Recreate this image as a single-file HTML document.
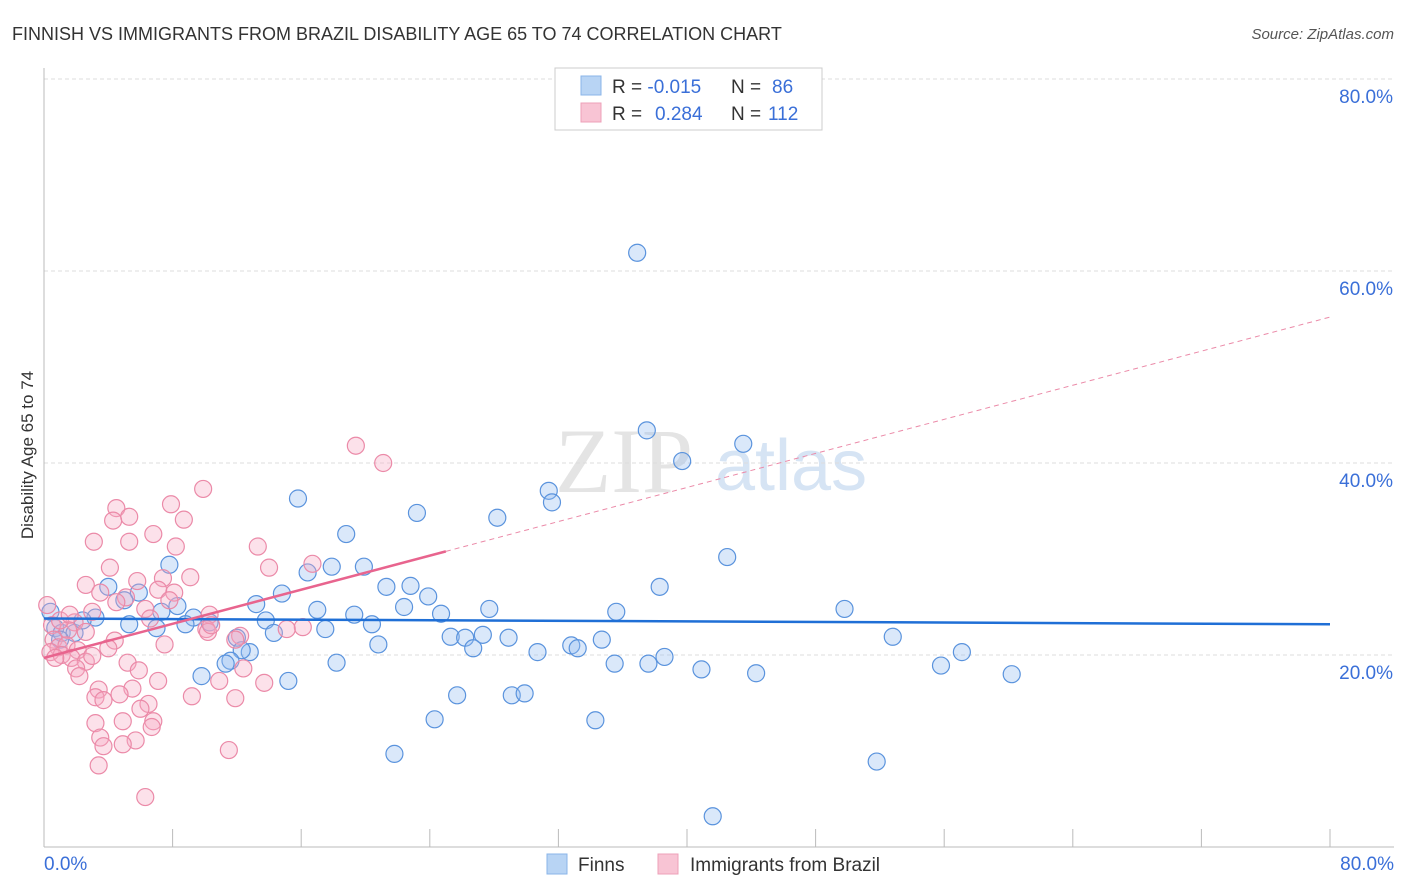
<!DOCTYPE html>
<html><head><meta charset="utf-8"><style>
body{margin:0;background:#fff;font-family:"Liberation Sans",sans-serif;}
#wrap{position:relative;width:1406px;height:892px;overflow:hidden}
</style></head><body>
<div id="wrap">
<svg id="chart" width="1406" height="892">
<text x="12" y="40" font-size="18" fill="#333">FINNISH VS IMMIGRANTS FROM BRAZIL DISABILITY AGE 65 TO 74 CORRELATION CHART</text>
<text x="1394" y="39" font-size="15" fill="#555" font-style="italic" text-anchor="end">Source: ZipAtlas.com</text>
<text x="0" y="0" transform="translate(33,455) rotate(-90)" font-size="17" fill="#333" text-anchor="middle">Disability Age 65 to 74</text>
<g><text x="555" y="492" font-size="92" font-family="Liberation Serif,serif" fill="#e4e4e4">ZIP</text><text x="715" y="490" font-size="72" fill="#d6e4f4">atlas</text></g>
<g id="grid"></g><g id="axes"></g><g id="pts"></g><g id="lines"></g>
<g>
<rect x="555" y="68" width="267" height="62" fill="#fff" stroke="#ccc"/>
<rect x="581" y="76" width="20" height="19" fill="#b8d4f4" stroke="#8ab4e8"/>
<rect x="581" y="103" width="20" height="19" fill="#f8c4d4" stroke="#eea0b8"/>
<text x="612" y="93" font-size="19" fill="#333">R = <tspan fill="#3a6fd8">-0.015</tspan><tspan x="731">N = </tspan><tspan fill="#3a6fd8" x="772">86</tspan></text>
<text x="612" y="120" font-size="19" fill="#333">R = <tspan fill="#3a6fd8" x="655">0.284</tspan><tspan x="731">N = </tspan><tspan fill="#3a6fd8" x="768">112</tspan></text>
</g>
<g>
<rect x="547" y="854" width="20" height="20" fill="#b8d4f4" stroke="#8ab4e8"/>
<text x="578" y="871" font-size="19" fill="#333">Finns</text>
<rect x="658" y="854" width="20" height="20" fill="#f8c4d4" stroke="#eea0b8"/>
<text x="690" y="871" font-size="19" fill="#333">Immigrants from Brazil</text>
</g>
</svg>
</div>
<script>
const blueX=[36.9,37.5,43.5,39.7,31.4,31.6,15.8,23.2,28.2,18.8,42.5,7.8,17.9,19.9,16.4,38.3,21.3,22.8,4.0,5.9,14.8,23.9,5.0,13.2,22.4,8.3,27.7,49.8,35.6,17.0,24.7,19.3,7.3,0.4,3.2,9.3,10.3,13.8,20.4,8.8,5.3,7.0,17.5,14.3,27.3,52.8,25.3,26.2,28.9,34.7,12.0,32.8,20.8,33.2,26.7,12.8,30.7,12.3,57.1,38.6,11.6,11.3,35.5,18.2,37.6,55.8,40.9,44.3,60.2,9.8,15.2,25.7,29.1,29.9,24.3,34.3,21.8,51.8,41.6,0.7,1.1,1.9,2.4,1.0];
const blueY=[61.9,43.4,42.0,40.2,37.1,35.9,36.3,34.8,34.3,32.6,30.2,29.4,29.2,29.2,28.6,27.1,27.1,27.2,27.1,26.5,26.4,26.1,25.7,25.3,25.0,25.1,24.8,24.8,24.5,24.7,24.3,24.2,24.5,24.5,23.9,23.9,23.4,23.6,23.2,23.2,23.2,22.8,22.7,22.3,22.1,21.9,21.9,21.8,21.8,21.6,21.8,21.0,21.1,20.7,20.7,20.3,20.3,20.5,20.3,19.8,19.4,19.1,19.1,19.2,19.1,18.9,18.5,18.1,18.0,17.8,17.3,15.8,15.8,16.0,13.3,13.2,9.7,8.9,3.2,22.8,22.3,22.3,23.6,21.6];
const pinkX=[19.4,21.1,9.9,4.5,7.9,5.3,4.3,8.7,3.1,5.3,6.8,13.3,8.2,16.7,14.0,4.1,9.1,7.4,2.6,5.8,8.1,7.1,3.5,5.1,4.5,7.8,6.3,3.0,0.2,10.3,1.9,16.1,15.1,10.1,0.5,1.5,2.6,12.2,7.5,4.4,4.0,0.6,0.9,1.4,2.1,0.4,1.1,1.7,2.6,0.7,3.0,5.2,12.4,2.0,5.9,2.2,10.9,7.1,13.7,3.4,5.5,4.7,3.2,9.2,11.9,3.7,6.5,6.0,4.9,3.2,6.8,6.7,3.5,5.7,3.7,4.9,11.5,3.4,6.3,1.0,1.6,10.2,10.4,11.9,6.6];
const pinkY=[41.8,40.0,37.3,35.3,35.7,34.4,34.0,34.1,31.8,31.8,32.6,31.3,31.3,29.5,29.1,29.1,28.1,28.0,27.3,27.7,26.5,26.8,26.5,26.0,25.5,25.7,24.8,24.5,25.2,24.2,23.4,22.9,22.7,22.7,23.1,22.6,22.4,22.0,21.1,21.5,20.7,21.6,20.8,21.0,20.5,20.3,20.0,19.7,19.3,19.7,19.9,19.2,18.6,18.6,18.4,17.8,17.3,17.3,17.1,16.4,16.5,15.9,15.6,15.7,15.5,15.3,14.9,14.4,13.1,12.9,13.1,12.5,11.4,11.1,10.5,10.7,10.1,8.5,5.2,23.6,24.2,22.4,23.1,21.6,23.8];
const yTicks=[20,40,60,80];
const xTickVals=[0,8,16,24,32,40,48,56,64,72,80];
const blueTrend=[23.8,23.2];
const pinkTrend=[19.7,55.2];
const NS="http://www.w3.org/2000/svg";
const sx=v=>44+v*1286/80, sy=v=>847-v*9.6;
function mk(tag,attrs,parent){const e=document.createElementNS(NS,tag);for(const k in attrs)e.setAttribute(k,attrs[k]);document.getElementById(parent).appendChild(e);return e;}
yTicks.forEach(t=>{
 const l=mk('line',{x1:44,x2:1394,y1:sy(t),y2:sy(t),stroke:'#ddd','stroke-dasharray':'4,3'},'grid');
 
 
 const tx=mk('text',{x:1393,y:sy(t)+24,'font-size':19,fill:'#3a6fd8','text-anchor':'end'},'axes');tx.textContent=t.toFixed(1)+'%';
 
 
});
const ax=mk('line',{x1:44,x2:44,y1:68,y2:847,stroke:'#bbb'},'axes');


const bx=mk('line',{x1:44,x2:1394,y1:847,y2:847,stroke:'#bbb'},'axes');


xTickVals.forEach(t=>{const l=mk('line',{x1:sx(t),x2:sx(t),y1:829,y2:847,stroke:'#bbb'},'axes');
 
 });
const x0=mk('text',{x:44,y:870,'font-size':19,fill:'#3a6fd8'},'axes');x0.textContent='0.0%';


const x1=mk('text',{x:1394,y:870,'font-size':19,fill:'#3a6fd8','text-anchor':'end'},'axes');x1.textContent='80.0%';


blueX.forEach((v,i)=>{const c=mk('circle',{cx:sx(v),cy:sy(blueY[i]),r:8.5,fill:'rgba(150,190,240,0.35)',stroke:'#5a93dd','stroke-width':1.2},'pts');
 
 });
pinkX.forEach((v,i)=>{const c=mk('circle',{cx:sx(v),cy:sy(pinkY[i]),r:8.5,fill:'rgba(245,170,195,0.35)',stroke:'#eb8aa8','stroke-width':1.2},'pts');
 
 });
const bl=mk('line',{x1:sx(0),y1:sy(blueTrend[0]),x2:sx(80),y2:sy(blueTrend[1]),stroke:'#1f6fd6','stroke-width':2.5},'lines');


const pm=v=>pinkTrend[0]+(pinkTrend[1]-pinkTrend[0])*v/80;
const pl=mk('line',{x1:sx(0),y1:sy(pm(0)),x2:sx(25),y2:sy(pm(25)),stroke:'#e8648e','stroke-width':2.5},'lines');


const pd=mk('line',{x1:sx(25),y1:sy(pm(25)),x2:sx(80),y2:sy(pm(80)),stroke:'#eb8aa8','stroke-width':1,'stroke-dasharray':'5,4'},'lines');


</script>
</body></html>
